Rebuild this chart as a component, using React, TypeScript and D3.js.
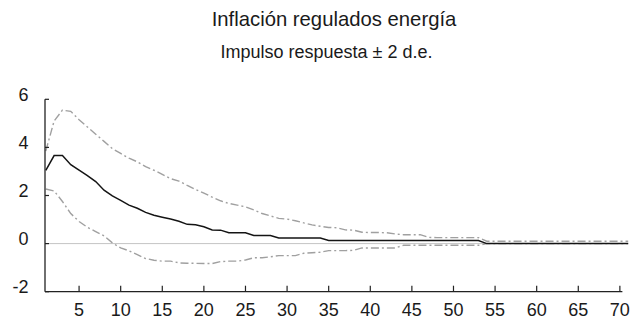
import React from "react";
import * as d3 from "d3";

const periods: number[] = d3.range(1, 72);

const respuesta: number[] = [
  3.04, 3.66, 3.66, 3.28, 3.05, 2.83, 2.58, 2.22, 1.98, 1.8,
  1.6, 1.47, 1.3, 1.18, 1.1, 1.02, 0.93, 0.8, 0.78, 0.7,
  0.57, 0.56, 0.45, 0.45, 0.45, 0.34, 0.34, 0.34, 0.23, 0.23,
  0.23, 0.23, 0.23, 0.23, 0.13, 0.13, 0.13, 0.13, 0.13, 0.13,
  0.13, 0.13, 0.13, 0.13, 0.13, 0.13, 0.13, 0.13, 0.13, 0.13,
  0.13, 0.13, 0.13, 0, 0, 0, 0, 0, 0, 0,
  0, 0, 0, 0, 0, 0, 0, 0, 0, 0,
  0,
];

const bandaSuperior: number[] = [
  3.85, 5.1, 5.55, 5.5, 5.15, 4.85, 4.55, 4.25, 3.95, 3.75,
  3.55, 3.4, 3.2, 3.05, 2.88, 2.7, 2.6, 2.42, 2.25, 2.1,
  1.93, 1.78, 1.67, 1.6, 1.53, 1.4, 1.25, 1.15, 1.05, 1.02,
  0.95, 0.86, 0.78, 0.72, 0.67, 0.66, 0.57, 0.56, 0.47, 0.46,
  0.46, 0.45, 0.4, 0.37, 0.37, 0.37, 0.26, 0.25, 0.25, 0.25,
  0.25, 0.25, 0.25, 0.1, 0.1, 0.1, 0.1, 0.1, 0.1, 0.1,
  0.1, 0.1, 0.1, 0.1, 0.1, 0.1, 0.1, 0.1, 0.1, 0.1,
  0.1,
];

const bandaInferior: number[] = [
  2.27, 2.19, 1.75, 1.25, 0.92, 0.68, 0.5, 0.32, 0.03, -0.18,
  -0.3, -0.46, -0.62, -0.69, -0.73, -0.73, -0.8, -0.82, -0.82, -0.83,
  -0.83, -0.75, -0.73, -0.73, -0.68, -0.59, -0.59, -0.55, -0.5, -0.5,
  -0.5, -0.4, -0.38, -0.36, -0.29, -0.29, -0.29, -0.28, -0.18, -0.18,
  -0.18, -0.18, -0.18, -0.07, -0.07, -0.07, -0.07, -0.07, -0.07, -0.07,
  -0.07, -0.07, -0.07, 0, 0, 0, 0, 0, 0, 0,
  0, 0, 0, 0, 0, 0, 0, 0, 0, 0,
  0,
];

const xTicks: number[] = [5, 10, 15, 20, 25, 30, 35, 40, 45, 50, 55, 60, 65, 70];
const yTicks: number[] = [-2, 0, 2, 4, 6];

const titulo = "Inflación regulados energía";
const subtitulo = "Impulso respuesta ± 2 d.e.";

export default function App() {
  const W = 631;
  const H = 321;
  const x = d3.scaleLinear().domain([1, 71]).range([45.8, 45.8 + 70 * 8.32]);
  const y = d3.scaleLinear().domain([-2, 6]).range([291.7, 99.3]);
  const axisLeft = 45;
  const axisRight = x(70.3);
  const font = "'Liberation Sans', Arial, sans-serif";

  const line = (vals: number[]) =>
    d3
      .line<number>()
      .x((_, i) => x(periods[i]))
      .y((v) => y(v))(vals) || "";

  return (
    <svg
      width={W}
      height={H}
      style={{ position: "absolute", left: 0, top: 0, background: "#fff" }}
      fontFamily={font}
    >
      <text x={334} y={26} textAnchor="middle" fontSize={20.3} fill="#1a1a1a">
        {titulo}
      </text>
      <text x={326.5} y={58} textAnchor="middle" fontSize={18} fill="#1a1a1a">
        {subtitulo}
      </text>

      {/* zero line */}
      <line x1={axisLeft} x2={axisRight} y1={y(0)} y2={y(0)} stroke="#c4c4c4" strokeWidth={1} />

      {/* bands */}
      <path d={line(bandaSuperior)} fill="none" stroke="#a0a0a0" strokeWidth={1.4} strokeDasharray="8,3,2,3" />
      <path d={line(bandaInferior)} fill="none" stroke="#a0a0a0" strokeWidth={1.4} strokeDasharray="8,3,2,3" />
      {/* response */}
      <path d={line(respuesta)} fill="none" stroke="#141414" strokeWidth={1.5} />

      {/* axes */}
      <line x1={axisLeft} x2={axisLeft} y1={y(6)} y2={y(-2)} stroke="#222" strokeWidth={1.3} />
      <line x1={axisLeft} x2={axisRight} y1={y(-2)} y2={y(-2)} stroke="#222" strokeWidth={1.3} />
      {yTicks.map((t) => (
        <g key={"y" + t}>
          <line x1={axisLeft} x2={axisLeft + 4} y1={y(t)} y2={y(t)} stroke="#222" strokeWidth={1.2} />
          <text x={28.5} y={y(t) + 1.5} textAnchor="end" fontSize={18} fill="#1a1a1a">
            {t}
          </text>
        </g>
      ))}
      {xTicks.map((t) => (
        <g key={"x" + t}>
          <line x1={x(t)} x2={x(t)} y1={y(-2)} y2={y(-2) - 6} stroke="#222" strokeWidth={1.2} />
          <text x={x(t)} y={315.5} textAnchor="middle" fontSize={18} fill="#1a1a1a">
            {t}
          </text>
        </g>
      ))}
    </svg>
  );
}
